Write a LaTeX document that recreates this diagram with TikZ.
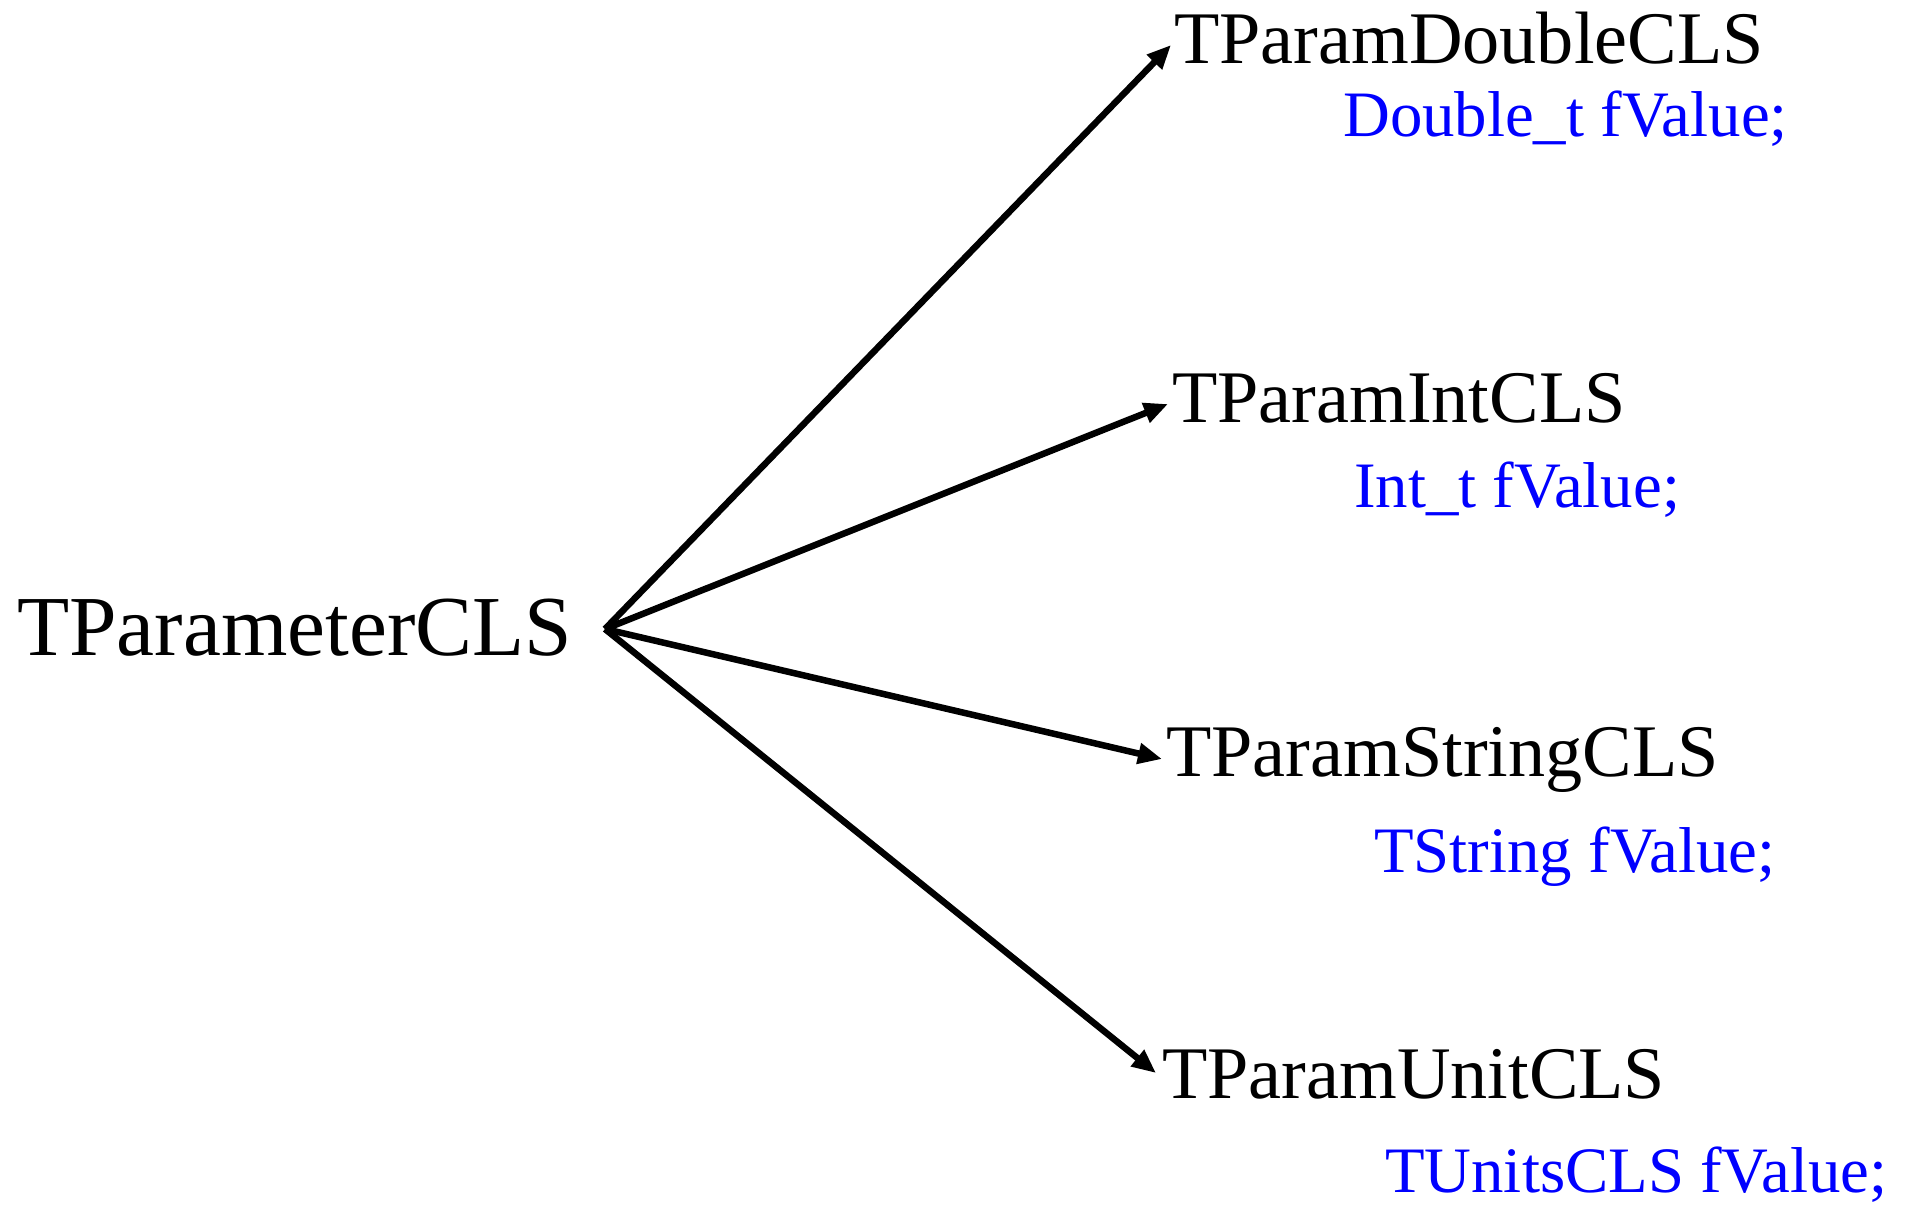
\documentclass[tikz,border=0pt]{standalone}
\usepackage{fontspec}
\setmainfont{Liberation Serif}
\usetikzlibrary{arrows.meta}
\definecolor{codeblue}{RGB}{0,0,255}
\tikzset{
  parentlbl/.style={anchor=base west, inner sep=0pt, font=\fontsize{85.4pt}{90pt}\selectfont},
  classlbl/.style={anchor=base west, inner sep=0pt, font=\fontsize{74.2pt}{80pt}\selectfont},
  memberlbl/.style={anchor=base west, inner sep=0pt, text=codeblue, font=\fontsize{64.8pt}{70pt}\selectfont},
  inherit/.style={line width=6.5pt, -{Triangle[length=24pt,width=20pt]}},
}
\begin{document}
\begin{tikzpicture}[x=1pt,y=-1pt]
\useasboundingbox (0,0) rectangle (1908,1205);
\node[parentlbl] (par) at (17,655) {TParameterCLS};
\node[classlbl] (dbl) at (1174,63) {TParamDoubleCLS};
\node[memberlbl] (dblv) at (1343,136) {Double\_t fValue;};
\node[classlbl] (int) at (1172,422) {TParamIntCLS};
\node[memberlbl] (intv) at (1354,507) {Int\_t fValue;};
\node[classlbl] (str) at (1166,776) {TParamStringCLS};
\node[memberlbl] (strv) at (1374,872) {TString fValue;};
\node[classlbl] (unit) at (1162,1098) {TParamUnitCLS};
\node[memberlbl] (unitv) at (1385,1192) {TUnitsCLS fValue;};
\coordinate (src) at (605,629);
\draw[inherit] (src) -- ([shift={(-3pt,18pt)}]dbl.base west);
\draw[inherit] (src) -- ([shift={(-4pt,18pt)}]int.base west);
\draw[inherit] (src) -- ([shift={(-4pt,17pt)}]str.base west);
\draw[inherit] (src) -- ([shift={(-6pt,25pt)}]unit.base west);
\end{tikzpicture}
\end{document}
